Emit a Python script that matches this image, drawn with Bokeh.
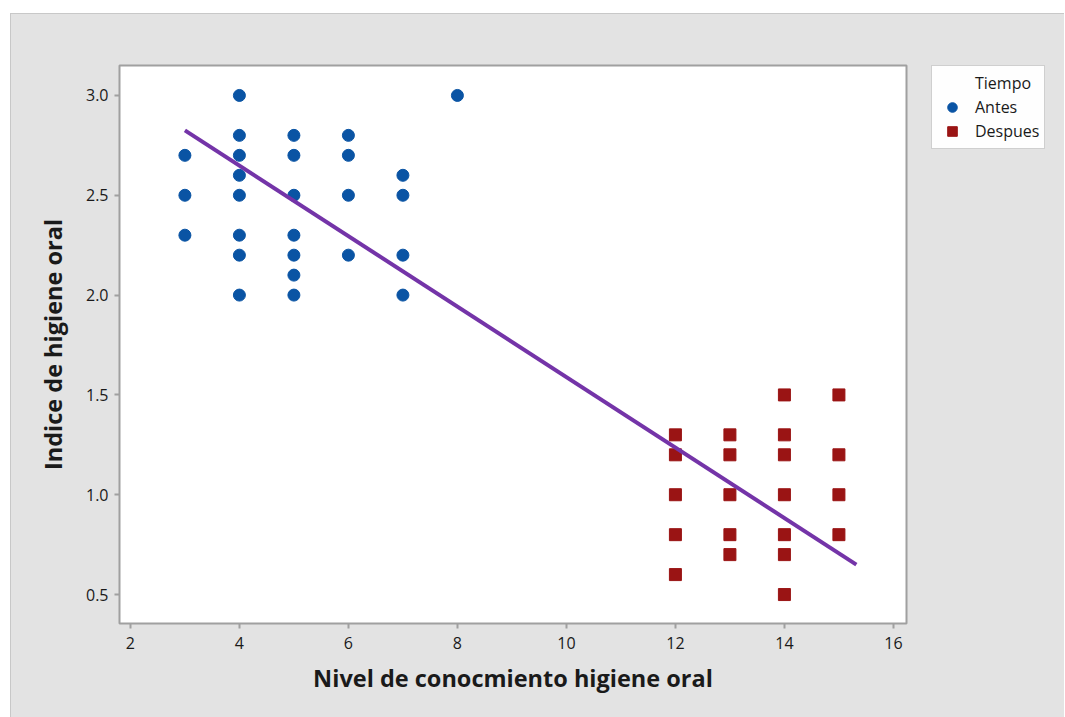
from bokeh.plotting import figure
from bokeh.layouts import row
from bokeh.models import Legend, LegendItem, FixedTicker, Range1d, CustomJSTickFormatter
from bokeh.embed import file_html
from bokeh.resources import INLINE

# Antes (before) points
antes_x = [3, 3, 3,
           4, 4, 4, 4, 4, 4, 4, 4,
           5, 5, 5, 5, 5, 5, 5,
           6, 6, 6, 6,
           7, 7, 7, 7,
           8]
antes_y = [2.7, 2.5, 2.3,
           3.0, 2.8, 2.7, 2.6, 2.5, 2.3, 2.2, 2.0,
           2.8, 2.7, 2.5, 2.3, 2.2, 2.1, 2.0,
           2.8, 2.7, 2.5, 2.2,
           2.6, 2.5, 2.2, 2.0,
           3.0]
# Despues (after) points
despues_x = [12, 12, 12, 12, 12,
             13, 13, 13, 13, 13,
             14, 14, 14, 14, 14, 14, 14,
             15, 15, 15, 15]
despues_y = [1.3, 1.2, 1.0, 0.8, 0.6,
             1.3, 1.2, 1.0, 0.8, 0.7,
             1.5, 1.3, 1.2, 1.0, 0.8, 0.7, 0.5,
             1.5, 1.2, 1.0, 0.8]
# fitted line endpoints
fit_x = [3.0, 15.32]
fit_y = [2.825, 0.65]

x_ticks = [2, 4, 6, 8, 10, 12, 14, 16]
y_ticks = [0.5, 1.0, 1.5, 2.0, 2.5, 3.0]
legend_title = "Tiempo"
group_labels = ["Antes", "Despues"]

BLUE = "#0a54a4"
RED = "#9a1414"
PURPLE = "#7434a8"
BG = "#e3e3e3"
EDGE = "1px solid #c8c8c8"
FONT = "Open Sans"

p = figure(width=905, height=703, output_backend="svg", toolbar_location=None,
           x_range=Range1d(1.80, 16.24), y_range=Range1d(0.355, 3.15),
           min_border_left=108, min_border_top=49, min_border_right=10, min_border_bottom=94,
           background_fill_color="white", border_fill_color=BG,
           outline_line_color="#a0a0a0", outline_line_width=2)
p.grid.visible = False

p.scatter(antes_x, antes_y, marker="circle", size=12, fill_color=BLUE, line_color=BLUE)
p.scatter(despues_x, despues_y, marker="square", size=12, fill_color=RED, line_color=RED)
p.line(fit_x, fit_y, line_color=PURPLE, line_width=4)

for ax in (p.xaxis[0], p.yaxis[0]):
    ax.axis_line_color = None
    ax.major_tick_line_color = "#a0a0a0"
    ax.major_tick_line_width = 2
    ax.major_tick_out = 5
    ax.major_tick_in = 0
    ax.minor_tick_line_color = None
    ax.major_label_text_font = FONT
    ax.major_label_text_font_size = "16px"
    ax.major_label_text_color = "#1a1a1a"
    ax.axis_label_text_font = FONT
    ax.axis_label_text_font_size = "23.5px"
    ax.axis_label_text_font_style = "bold"
    ax.axis_label_text_color = "#1a1a1a"

p.xaxis.ticker = FixedTicker(ticks=x_ticks)
p.yaxis.ticker = FixedTicker(ticks=y_ticks)
p.yaxis.formatter = CustomJSTickFormatter(code="return tick.toFixed(1);")
p.xaxis.axis_label = "Nivel de conocmiento higiene oral"
p.yaxis.axis_label = "Indice de higiene oral"
p.xaxis.axis_label_standoff = 10
p.yaxis.axis_label_standoff = 14
p.xaxis.major_label_standoff = 8
p.yaxis.major_label_standoff = 6

# legend panel to the right (proxy renderers are hidden, only their legend glyphs show)
q = figure(width=148, height=703, output_backend="svg", toolbar_location=None,
           x_range=Range1d(0, 1), y_range=Range1d(0, 1),
           min_border_left=15, min_border_top=51, min_border_right=0, min_border_bottom=0,
           background_fill_color=BG, border_fill_color=BG,
           outline_line_color=None)
q.axis.visible = False
q.grid.visible = False
q_t = q.scatter(antes_x[:1], antes_y[:1], size=12, fill_alpha=0, line_alpha=0)
q_a = q.scatter(antes_x[:1], antes_y[:1], marker="circle", size=12,
                fill_color=BLUE, line_color=BLUE)
q_d = q.scatter(despues_x[:1], despues_y[:1], marker="square", size=12,
                fill_color=RED, line_color=RED)
for r in (q_t, q_a, q_d):
    r.visible = False

legend = Legend(items=[LegendItem(label=legend_title, renderers=[q_t]),
                       LegendItem(label=group_labels[0], renderers=[q_a]),
                       LegendItem(label=group_labels[1], renderers=[q_d])],
                location="top_left", click_policy="none")
legend.label_text_font = FONT
legend.label_text_font_size = "16px"
legend.label_text_color = "#1a1a1a"
legend.border_line_color = "#a0a0a0"
legend.border_line_width = 1
legend.background_fill_color = "white"
legend.padding = 5
legend.spacing = 0
legend.label_height = 24
legend.glyph_height = 24
legend.glyph_width = 30
legend.label_standoff = 8
legend.margin = 0
q.add_layout(legend, "center")

layout = row(p, q, spacing=0)
layout.margin = (13, 0, 0, 10)
layout.styles = {"border-left": EDGE, "border-top": EDGE, "background-color": BG}
open("out.html", "w").write(file_html(layout, INLINE))
